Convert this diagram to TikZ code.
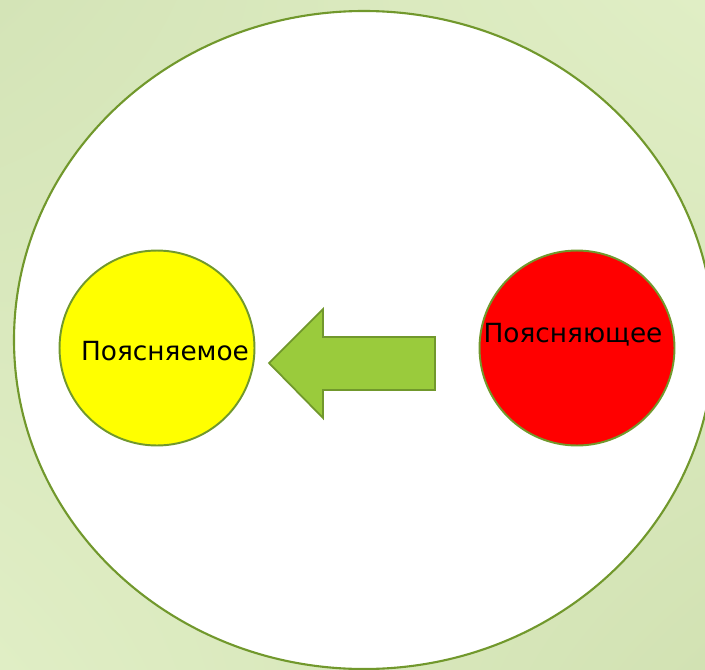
\documentclass[tikz,border=0pt]{standalone}
\usepackage{fontspec}
\setmainfont{DejaVu Sans}
\usetikzlibrary{shapes.geometric,positioning,shadings}
\definecolor{bgdark}{HTML}{D4E4B7}
\definecolor{bglight}{HTML}{E0EEC5}
\definecolor{bgcorner}{HTML}{D2E2B3}
\definecolor{rim}{HTML}{71982C}
\definecolor{arrowfill}{HTML}{9ACB3C}
\definecolor{ballyellow}{RGB}{255,255,0}
\definecolor{ballred}{RGB}{255,0,0}

\begin{document}
\begin{tikzpicture}[x=0.02cm, y=-0.02cm,
		every node/.style={inner sep=0pt},
		ball/.style={draw=rim, line width=1.1pt, shape=circle, minimum size=3.9cm},
		word/.style={font=\fontsize{15}{17}\selectfont, text=black}]
		\useasboundingbox (0,0) rectangle (705,669);
		\clip (0,0) rectangle (705,669);
		\shade[upper left=bgdark, upper right=bglight, lower left=bglight, lower right=bgcorner] (0,0) rectangle (705,669);

		\draw[rim, fill=white, line width=1.2pt] (364,340) ellipse [x radius=350, y radius=329];

		\node[ball, fill=ballyellow] (explained) at (157,348) {};
		\node[ball, fill=ballred] (explaining) at (577,348) {};
		\node[word] (explainedtext) at ([shift={(8,3)}]explained.center) {Поясняемое};
		\node[word] (explainingtext) at ([shift={(-4,-13)}]explaining.center) {Поясняющее};

		\coordinate (tip) at (269,363);
		\draw[rim, fill=arrowfill, line width=1pt] (tip) -- ++(54,-54) -- ++(0,28) -- ++(112,0)
		-- ++(0,53) -- ++(-112,0) -- ++(0,28) -- cycle;

	\end{tikzpicture}
\end{document}
